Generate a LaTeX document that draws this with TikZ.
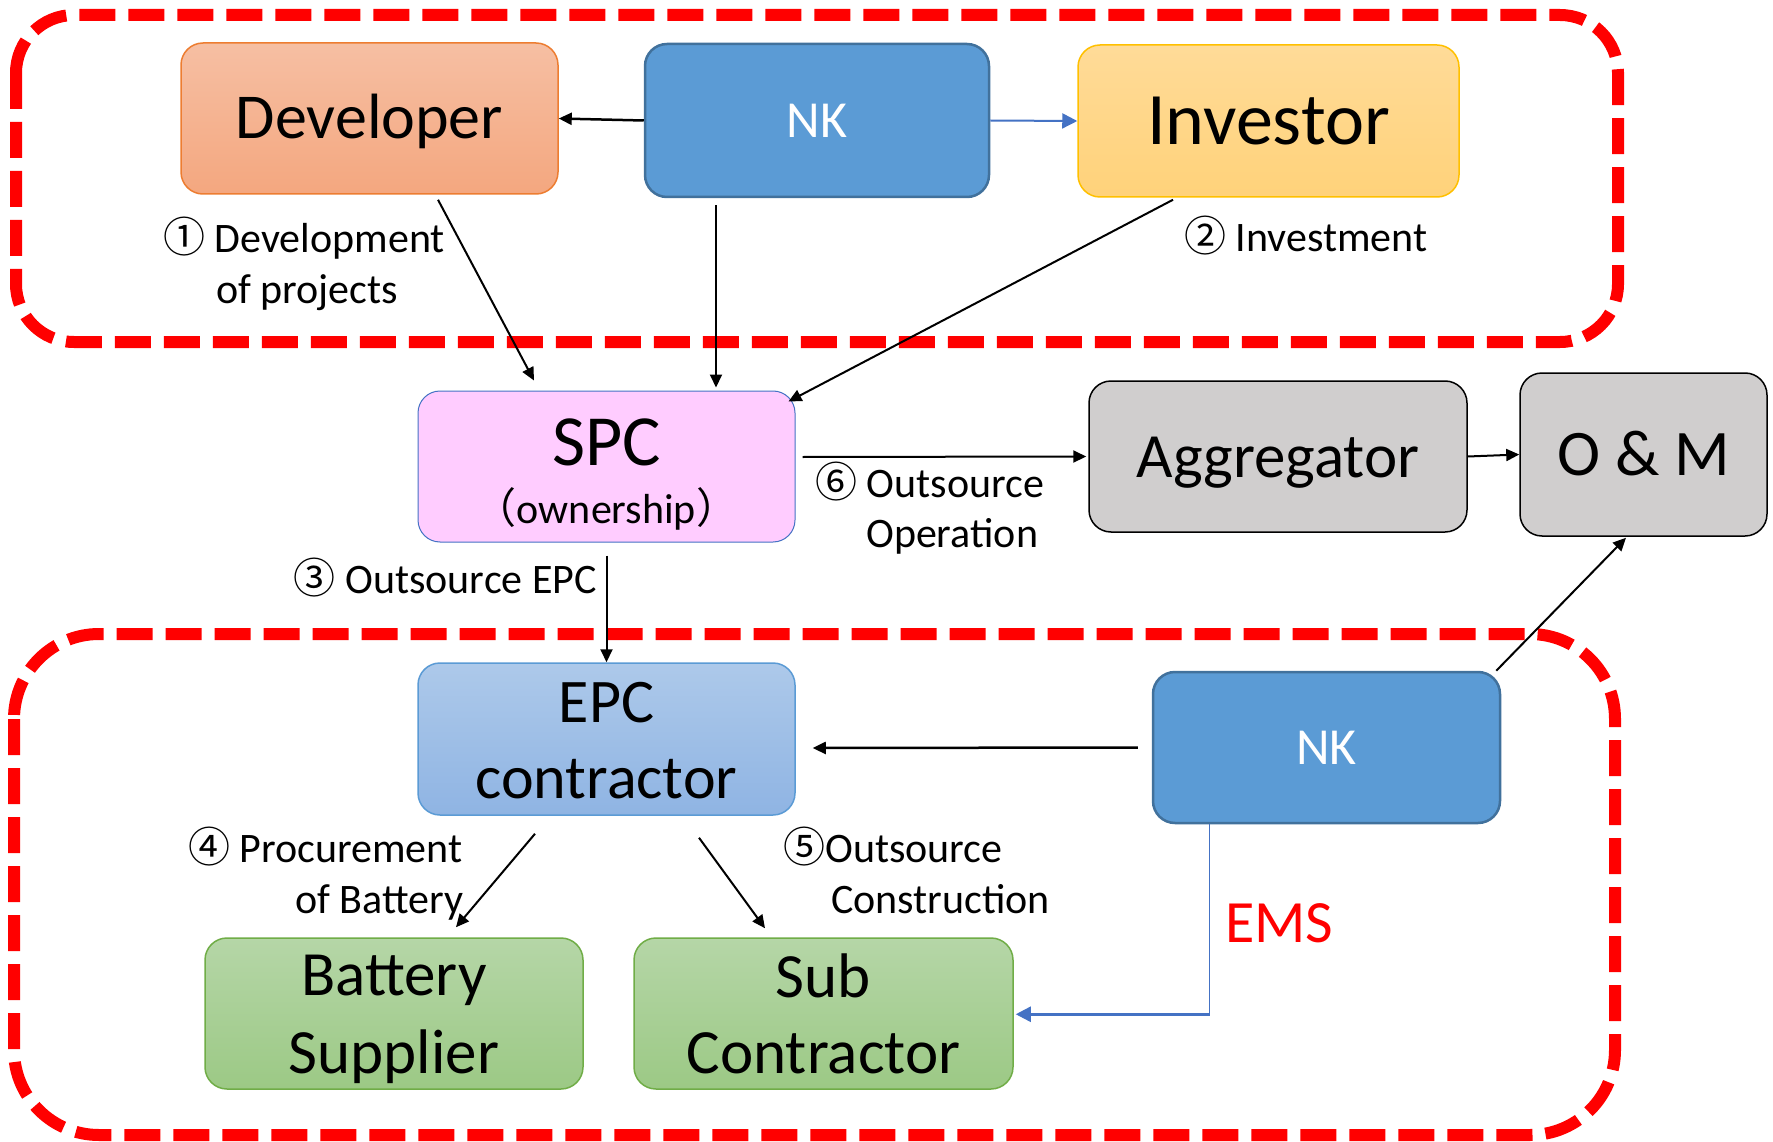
\documentclass[tikz,border=0pt]{standalone}
\usepackage{fontspec}
\setmainfont{Carlito}
\newfontfamily\cjk{Noto Sans CJK JP}
\usetikzlibrary{arrows.meta,calc}
\definecolor{devT}{HTML}{F6BFA3}\definecolor{devB}{HTML}{F4A77F}\definecolor{devD}{HTML}{ED7D31}
\definecolor{invT}{HTML}{FFDB98}\definecolor{invB}{HTML}{FFD27A}\definecolor{invD}{HTML}{FFC000}
\definecolor{nkF}{HTML}{5B9BD5}\definecolor{nkD}{HTML}{41719C}
\definecolor{spcF}{HTML}{FFCCFF}\definecolor{spcD}{HTML}{4472C4}
\definecolor{grayF}{HTML}{D0CECE}
\definecolor{epcT}{HTML}{ADC9EA}\definecolor{epcB}{HTML}{8FB4E3}\definecolor{epcD}{HTML}{5B9BD5}
\definecolor{grnT}{HTML}{B5D6A7}\definecolor{grnB}{HTML}{9CC985}\definecolor{grnD}{HTML}{70AD47}
\definecolor{arrBlue}{HTML}{4472C4}
\begin{document}
\begin{tikzpicture}[x=1pt,y=-1pt,
  reddash/.style={draw=red, line width=12pt, dash pattern=on 36pt off 13pt},
  box/.style={rounded corners=22pt, inner sep=0pt, minimum width=377pt, minimum height=151pt, text depth=0pt},
  lbl/.style={font=\fontsize{42}{42}\selectfont, inner sep=0pt},
  big/.style={font=\fontsize{62}{62}\selectfont, inner sep=0pt, anchor=base},
  arr/.style={-{Triangle[length=13pt,width=12pt]}, line width=2pt},
  barr/.style={-{Triangle[length=15pt,width=15pt]}, line width=2.5pt, draw=arrBlue}]
\useasboundingbox (0,0) rectangle (1773,1142);
\fill[white] (0,0) rectangle (1773,1142);
% dashed groups
\draw[reddash, rounded corners=58pt] (16,15) rectangle (1618,342);
\draw[reddash, rounded corners=85pt] (14,634) rectangle (1615,1135);
% top row
\node[box, top color=devT, bottom color=devB, draw=devD, line width=1.5pt, text height=41pt, font=\fontsize{64}{64}\selectfont] (dev) at (369.5,118.5) {Developer};
\node[box, minimum width=344pt, minimum height=153pt, fill=nkF, draw=nkD, line width=2.5pt, text=white, text height=34pt, font=\fontsize{52}{52}\selectfont] (nk1) at (817,120.5) {NK};
\node[box, minimum width=381pt, minimum height=152pt, top color=invT, bottom color=invB, draw=invD, line width=1.5pt, text height=47pt, font=\fontsize{74}{74}\selectfont] (inv) at (1268.5,121) {Investor};
% middle row
\node[box, fill=spcF, draw=spcD, line width=1pt] (spc) at (606.5,466.5) {};
\node[big, font=\fontsize{72}{72}\selectfont] (spcA) at ([yshift=1.5pt]spc.center) {SPC};
\node[lbl, anchor=base] (spcB) at ([yshift=-56.5pt]spc.center) {{\cjk （}ownership{\cjk ）}};
\node[box, minimum width=378pt, fill=grayF, draw=black, line width=1.5pt, text height=41pt, font=\fontsize{63}{63}\selectfont] (agg) at (1278,456.5) {Aggregator};
\node[box, minimum width=247pt, minimum height=163pt, fill=grayF, draw=black, line width=1.5pt, text height=42pt, font=\fontsize{65}{65}\selectfont] (om) at (1643.5,454.5) {O \& M};
% bottom group
\node[box, minimum height=152pt, top color=epcT, bottom color=epcB, draw=epcD, line width=1.5pt] (epc) at (606.5,739) {};
\node[big] (epcA) at ([yshift=17pt]epc.center) {EPC};
\node[big] (epcB) at ([yshift=-59pt]epc.center) {contractor};
\node[box, minimum width=347pt, fill=nkF, draw=nkD, line width=2.5pt, text=white, text height=34pt, font=\fontsize{52}{52}\selectfont] (nk2) at (1326.5,747.5) {NK};
\node[box, minimum width=378pt, top color=grnT, bottom color=grnB, draw=grnD, line width=1.5pt] (bat) at (394,1013.5) {};
\node[big, font=\fontsize{63}{63}\selectfont] (batA) at ([yshift=18.5pt]bat.center) {Battery};
\node[big, font=\fontsize{63}{63}\selectfont] (batB) at ([yshift=-59.5pt]bat.center) {Supplier};
\node[box, minimum width=379pt, top color=grnT, bottom color=grnB, draw=grnD, line width=1.5pt] (sub) at (823.5,1013.5) {};
\node[big, font=\fontsize{63}{63}\selectfont] (subA) at ([yshift=16.5pt]sub.center) {Sub};
\node[big, font=\fontsize{63}{63}\selectfont] (subB) at ([yshift=-59.5pt]sub.center) {Contractor};
% connectors
\draw[arr, line width=2.5pt] (nk1.west) -- (dev.east);
\draw[barr, line width=2pt] (nk1.east) -- (inv.west);
\draw[arr] ([xshift=68.5pt,yshift=-5pt]dev.south) -- ([xshift=-72.5pt,yshift=10pt]spc.north);
\draw[arr] ([xshift=-101pt,yshift=-7pt]nk1.south) -- ([xshift=109.5pt,yshift=3pt]spc.north);
\draw[arr] ([xshift=-95.5pt,yshift=-2pt]inv.south) -- ([xshift=-7pt,yshift=-11pt]spc.north east);
\draw[arr] ([xshift=7pt,yshift=9.5pt]spc.east) -- ([xshift=-2pt]agg.west);
\draw[arr] (agg.east) -- (om.west);
\draw[arr] ([xshift=-5pt]nk2.north east) -- ([xshift=-17.5pt,yshift=-1pt]om.south);
\draw[arr] ([yshift=-13pt]spc.south) -- (epc.north);
\draw[arr, line width=2.5pt] ([xshift=-14pt]nk2.west) -- ([xshift=17pt,yshift=-9pt]epc.east);
\draw[arr] ([xshift=-71.5pt,yshift=-18pt]epc.south) -- ([xshift=62pt,yshift=10pt]bat.north);
\draw[arr] ([xshift=92.5pt,yshift=-22pt]epc.south) -- ([xshift=-58.5pt,yshift=9pt]sub.north);
\draw[draw=arrBlue, line width=1pt] ([xshift=-117.5pt]nk2.south) -- ++(0,190) coordinate (ems);
\draw[barr] ([xshift=0.5pt]ems) -- ([xshift=2pt]sub.east |- ems);
% labels
\node[lbl, anchor=base west] (l1a) at (163,253) {{\cjk ①} Development};
\node[lbl, anchor=base west] (l1b) at (216,303) {of projects};
\node[lbl, anchor=base west] (l2) at (1184,252) {{\cjk ②} Investment};
\node[lbl, anchor=base east] (l3) at (597,593) {{\cjk ③} Outsource EPC};
\node[lbl, anchor=base west] (l6a) at (815,497) {{\cjk ⑥} Outsource};
\node[lbl, anchor=base west] (l6b) at (866,547) {Operation};
\node[lbl, anchor=base west] (l4a) at (188,862) {{\cjk ④} Procurement};
\node[lbl, anchor=base west] (l4b) at (295,913) {of Battery};
\node[lbl, anchor=base west] (l5a) at (783,862) {{\cjk ⑤}Outsource};
\node[lbl, anchor=base west] (l5b) at (831,913) {Construction};
\node[lbl, anchor=base west, text=red, font=\fontsize{60}{60}\selectfont] (ems-t) at (1225,942) {EMS};
\end{tikzpicture}
\end{document}
